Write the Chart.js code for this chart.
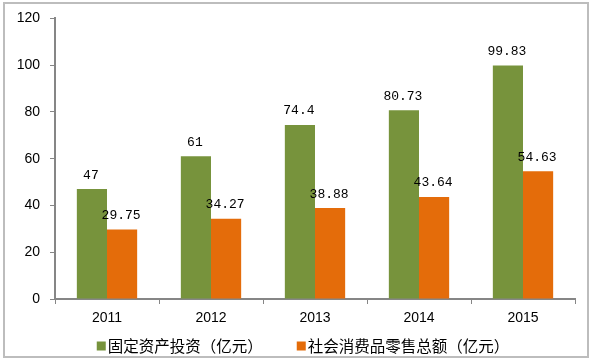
<!DOCTYPE html>
<html><head><meta charset="utf-8">
<script src="https://cdn.jsdelivr.net/npm/chart.js@4/dist/chart.umd.min.js"></script>
<style>
html,body{margin:0;padding:0;background:#fff;}
#wrap{position:absolute;left:0;top:0;width:592px;height:361px;}
#frame{position:absolute;left:3px;top:2px;width:582px;height:352px;border:2px solid #bdbdbd;pointer-events:none;}
</style></head>
<body>
<div id="wrap"><canvas id="c" width="592" height="361"></canvas><div id="frame"></div></div>
<script>
const categories = ['2011','2012','2013','2014','2015'];
const fixedInvestment = [47, 61, 74.4, 80.73, 99.83];
const retailSales = [29.75, 34.27, 38.88, 43.64, 54.63];
const seriesNames = ['固定资产投资（亿元）','社会消费品零售总额（亿元）'];
const seriesColors = ['#77933C','#E46C0A'];
const yTicks = [0,20,40,60,80,100,120];

const labelPlugin = {
  id:'vals',
  afterDatasetsDraw(chart){
    const ctx = chart.ctx;
    ctx.save();
    ctx.font = '13px "Liberation Mono", monospace';
    ctx.fillStyle = '#000';
    ctx.textAlign = 'center';
    ctx.textBaseline = 'middle';
    chart.data.datasets.forEach((ds,i)=>{
      chart.getDatasetMeta(i).data.forEach((el,j)=>{
        ctx.fillText(String(ds.data[j]), el.x - 1, el.y - 14);
      });
    });
    ctx.restore();
  }
};

const legendPlugin = {
  id:'customLegend',
  afterDraw(chart){
    const ctx = chart.ctx;
    ctx.save();
    ctx.font = '15.5px "Noto Sans CJK SC", sans-serif';
    ctx.textBaseline = 'middle';
    ctx.textAlign = 'left';
    const box = 9, gapBT = 2, gapItems = 34;
    const items = chart.data.datasets.map(ds=>({label:ds.label,color:ds.backgroundColor,w:box+gapBT+ctx.measureText(ds.label).width}));
    const total = items.reduce((a,b)=>a+b.w,0) + gapItems*(items.length-1);
    let x = chart.width/2 + 7 - total/2;
    const y = chart.chartArea.bottom + 47;
    items.forEach(it=>{
      ctx.fillStyle = it.color;
      ctx.fillRect(x, y - box/2, box, box);
      ctx.fillStyle = '#000';
      ctx.fillText(it.label, x + box + gapBT, y);
      x += it.w + gapItems;
    });
    ctx.restore();
  }
};

new Chart(document.getElementById('c'), {
  type:'bar',
  data:{
    labels: categories,
    datasets:[
      {label:seriesNames[0], data:fixedInvestment, backgroundColor:seriesColors[0], categoryPercentage:0.58, barPercentage:1},
      {label:seriesNames[1], data:retailSales, backgroundColor:seriesColors[1], categoryPercentage:0.58, barPercentage:1}
    ]
  },
  options:{
    responsive:false,
    animation:false,
    devicePixelRatio:1,
    layout:{padding:{top:14,right:17,left:0,bottom:30}},
    plugins:{
      tooltip:{enabled:false},
      legend:{display:false}
    },
    scales:{
      x:{
        grid:{display:true, drawOnChartArea:false, tickLength:5, color:'#868686', offset:true},
        border:{color:'#868686', width:2},
        ticks:{color:'#000', font:{family:'"Liberation Sans", Arial', size:14}, padding:6},
        afterFit(s){ s.height = 32; }
      },
      y:{
        min:0, max:120,
        afterBuildTicks(s){ s.ticks = yTicks.map(v=>({value:v})); },
        grid:{display:true, drawOnChartArea:false, tickLength:5, color:'#868686'},
        border:{color:'#868686', width:2},
        ticks:{color:'#000', font:{family:'"Liberation Sans", Arial', size:14}, padding:10},
        afterFit(s){ s.width = 55; }
      }
    }
  },
  plugins:[labelPlugin, legendPlugin]
});
</script>
</body></html>
